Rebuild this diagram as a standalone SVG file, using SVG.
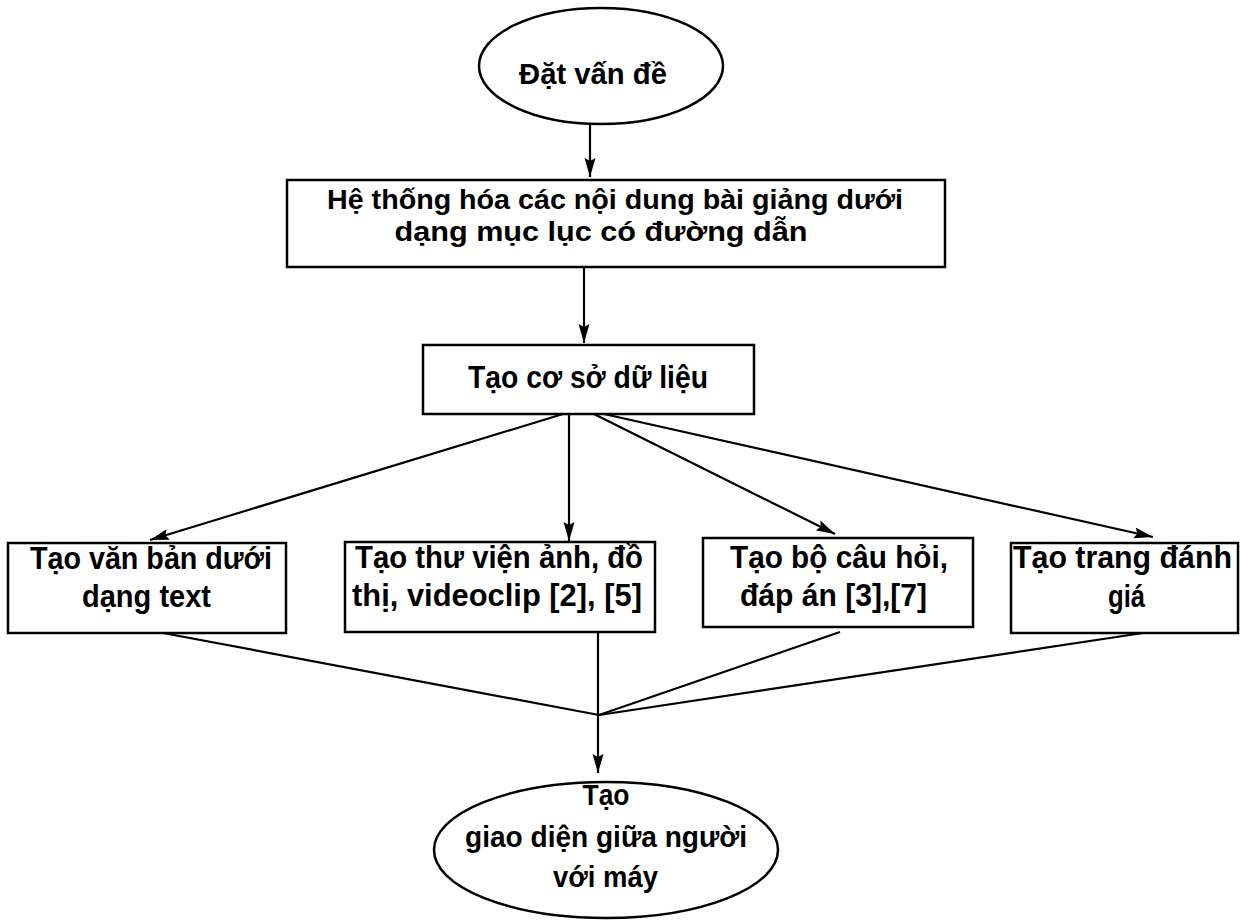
<svg xmlns="http://www.w3.org/2000/svg" width="1249" height="921" viewBox="0 0 1249 921">
<style>
.shape{fill:#fff;stroke:#000;stroke-width:2.5}
.t{font-family:"Liberation Sans",Arial,sans-serif;font-weight:bold;font-size:31px;fill:#000;text-anchor:middle}
.e{font-size:29px}
.m{font-size:28px}
.c{fill:none;stroke:#000;stroke-width:2.2}
</style>
<defs>
<marker id="arr" markerUnits="userSpaceOnUse" markerWidth="20" markerHeight="12" refX="19" refY="6" orient="auto">
<path d="M0,0.5 L19,6 L0,11.5 L3,6 z" fill="#000"/>
</marker>
</defs>
<rect width="1249" height="921" fill="#fff"/>
<g id="connectors">
<line class="c" x1="590" y1="124" x2="590" y2="177" marker-end="url(#arr)"/>
<line class="c" x1="584" y1="267" x2="584" y2="343" marker-end="url(#arr)"/>
<line class="c" x1="563" y1="414" x2="150" y2="540" marker-end="url(#arr)"/>
<line class="c" x1="569" y1="414" x2="569" y2="541" marker-end="url(#arr)"/>
<line class="c" x1="594" y1="414" x2="835" y2="534" marker-end="url(#arr)"/>
<line class="c" x1="604" y1="414" x2="1153" y2="537" marker-end="url(#arr)"/>
<polyline class="c" points="163,633 599,715"/>
<polyline class="c" points="840,632 599,715"/>
<polyline class="c" points="1143,633 599,715"/>
<line class="c" x1="598" y1="632" x2="598" y2="773" marker-end="url(#arr)"/>
</g>
<g id="n1">
<ellipse class="shape" cx="601" cy="66" rx="122" ry="58"/>
<text class="t e" x="593" y="84" textLength="148" lengthAdjust="spacingAndGlyphs">Đặt vấn đề</text>
</g>
<g id="n2">
<rect class="shape" x="287" y="180" width="658" height="87"/>
<text class="t m" x="615" y="209" textLength="576" lengthAdjust="spacingAndGlyphs">Hệ thống hóa các nội dung bài giảng dưới</text>
<text class="t m" x="601" y="241" textLength="413" lengthAdjust="spacingAndGlyphs">dạng mục lục có đường dẫn</text>
</g>
<g id="n3">
<rect class="shape" x="423" y="345" width="331" height="69"/>
<text class="t" x="588" y="388" textLength="240" lengthAdjust="spacingAndGlyphs">Tạo cơ sở dữ liệu</text>
</g>
<g id="n4">
<rect class="shape" x="8" y="543" width="278" height="90"/>
<text class="t" x="151" y="569" textLength="242" lengthAdjust="spacingAndGlyphs">Tạo văn bản dưới</text>
<text class="t" x="146.5" y="607" textLength="129" lengthAdjust="spacingAndGlyphs">dạng text</text>
</g>
<g id="n5">
<rect class="shape" x="345" y="542" width="310" height="90"/>
<text class="t" x="499" y="568" textLength="288" lengthAdjust="spacingAndGlyphs">Tạo thư viện ảnh, đồ</text>
<text class="t" x="497" y="606" textLength="290" lengthAdjust="spacingAndGlyphs">thị, videoclip [2], [5]</text>
</g>
<g id="n6">
<rect class="shape" x="703" y="538" width="270" height="89"/>
<text class="t" x="839" y="568" textLength="218" lengthAdjust="spacingAndGlyphs">Tạo bộ câu hỏi,</text>
<text class="t" x="833.5" y="606" textLength="187" lengthAdjust="spacingAndGlyphs">đáp án [3],[7]</text>
</g>
<g id="n7">
<rect class="shape" x="1011" y="543" width="227" height="90"/>
<text class="t" x="1122.5" y="568" textLength="219" lengthAdjust="spacingAndGlyphs">Tạo trang đánh</text>
<text class="t" x="1126.5" y="607" textLength="37" lengthAdjust="spacingAndGlyphs">giá</text>
</g>
<g id="n8">
<ellipse class="shape" cx="606" cy="850" rx="172" ry="68"/>
<text class="t e" x="606" y="805" textLength="47" lengthAdjust="spacingAndGlyphs">Tạo</text>
<text class="t e" x="606" y="847" textLength="282" lengthAdjust="spacingAndGlyphs">giao diện giữa người</text>
<text class="t e" x="605.5" y="887" textLength="105" lengthAdjust="spacingAndGlyphs">với máy</text>
</g>
</svg>
